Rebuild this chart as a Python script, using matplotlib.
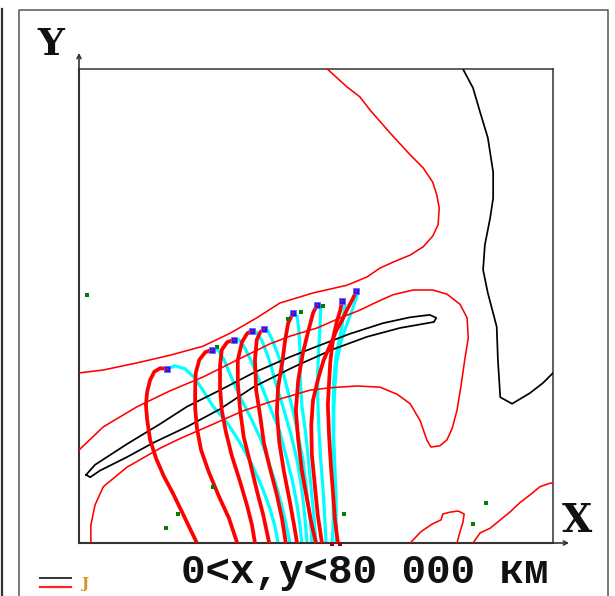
import matplotlib
matplotlib.use("Agg")
import matplotlib.pyplot as plt
from matplotlib.lines import Line2D

# ---------------- data (thousand km, 0..80) ----------------
# thin red contours
contour_r1_x = [41.9, 45.2, 47.4, 49.1, 52.5, 55.9, 58.1, 59.7, 60.4, 60.8, 60.6, 59.7, 58.1, 55.9, 53.0, 50.8, 48.6, 45.2, 39.5, 33.9, 30.0, 25.5, 20.9, 15.4, 9.8, 4.1, 0.0]
contour_r1_y = [80.0, 77.0, 75.3, 73.1, 69.2, 65.5, 63.3, 60.9, 58.7, 56.5, 53.7, 51.8, 50.0, 48.6, 47.4, 46.4, 44.9, 43.5, 42.2, 40.5, 38.0, 35.4, 33.2, 31.7, 30.4, 29.2, 28.7]

contour_r2_x = [0.0, 4.1, 9.8, 15.4, 20.9, 26.7, 32.2, 35.6, 40.2, 44.1, 47.4, 50.3, 53.0, 56.4, 59.7, 62.1, 64.3, 65.5, 65.7, 65.1, 64.5, 63.8, 63.0, 62.1, 60.9, 59.4, 58.7, 57.6, 55.9, 53.7, 50.8, 46.9, 42.4, 39.0, 35.6, 32.2, 27.7, 21.6, 17.0, 13.7, 8.1, 4.1, 2.7, 2.0, 2.0]
contour_r2_y = [15.7, 19.6, 23.0, 25.7, 28.0, 30.9, 33.6, 34.9, 36.3, 38.0, 39.3, 40.7, 41.9, 42.7, 42.7, 42.0, 40.3, 38.0, 34.6, 30.9, 26.7, 22.4, 19.4, 17.4, 16.4, 16.2, 17.4, 20.6, 23.5, 25.1, 26.3, 26.5, 26.2, 25.8, 24.8, 23.8, 22.3, 19.6, 17.6, 16.0, 12.8, 9.5, 6.4, 3.0, 0.0]

contour_r3_x = [55.9, 57.7, 59.6, 61.1, 61.4, 62.6, 64.0, 65.0, 64.8, 64.3, 63.8]
contour_r3_y = [0.0, 1.9, 3.2, 3.9, 4.9, 5.2, 5.4, 4.9, 3.5, 1.9, 0.0]

contour_r4_x = [66.5, 67.7, 69.4, 71.1, 72.7, 74.4, 76.1, 77.8, 79.5, 80.0]
contour_r4_y = [0.0, 1.7, 2.5, 3.9, 5.2, 6.8, 8.1, 9.5, 10.1, 10.1]

# thin black contours
contour_k1_x = [64.8, 66.5, 67.7, 69.0, 69.9, 69.9, 69.4, 68.5, 68.2, 69.0, 70.5, 70.7, 71.1, 73.1, 76.1, 78.3, 80.0]
contour_k1_y = [80.0, 76.8, 72.7, 68.4, 62.6, 58.2, 54.9, 50.3, 46.1, 42.2, 36.5, 30.9, 24.6, 23.5, 25.3, 27.0, 28.7]

contour_k2_x = [1.2, 2.7, 8.1, 13.7, 18.2, 23.8, 29.4, 35.6, 40.2, 45.7, 51.3, 55.9, 59.2, 60.3, 59.9, 54.2, 48.6, 42.9, 37.3, 35.6, 29.4, 23.8, 18.2, 12.5, 8.1, 3.5, 1.9, 1.2]
contour_k2_y = [11.5, 13.2, 16.7, 20.1, 23.0, 25.8, 28.7, 31.4, 33.2, 35.3, 37.1, 38.1, 38.5, 38.0, 37.3, 36.3, 34.8, 32.7, 30.2, 29.4, 26.3, 22.6, 19.6, 16.9, 14.5, 12.2, 11.1, 11.5]

# trajectories (J): red
red_x = [
    [14.9, 13.7, 12.7, 12.0, 11.5, 11.3, 11.5, 12.0, 13.0, 14.3, 15.9, 17.4, 18.7, 19.9],
    [22.4, 21.3, 20.3, 19.7, 19.6, 19.6, 19.9, 20.6, 21.9, 23.6, 25.3, 26.7],
    [26.2, 25.0, 24.1, 23.8, 23.8, 24.1, 24.8, 25.8, 27.2, 28.4, 29.2, 29.7],
    [29.2, 28.4, 27.5, 26.8, 26.8, 27.2, 27.8, 28.9, 30.0, 31.1, 32.1],
    [31.2, 30.6, 30.0, 29.7, 29.9, 30.6, 31.2, 32.2, 33.4, 34.3, 34.9],
    [36.1, 35.3, 34.8, 34.3, 33.6, 33.4, 33.8, 34.6, 35.6, 36.3, 36.8],
    [40.2, 39.5, 38.6, 37.8, 37.0, 36.6, 37.0, 37.6, 38.5, 39.3, 40.0],
    [44.4, 44.1, 43.5, 43.0, 42.7, 42.4, 42.2, 42.0, 42.2, 42.5, 42.9, 43.2, 43.7],
    [46.8, 46.1, 45.2, 44.4, 43.5, 42.4, 41.3, 40.3, 39.5, 39.2, 39.3, 39.8, 40.3, 41.0],
]
red_y = [
    [29.4, 29.5, 28.9, 27.5, 25.5, 23.3, 20.8, 17.4, 14.3, 11.3, 8.3, 5.2, 2.5, 0.0],
    [32.6, 32.2, 30.9, 28.7, 25.8, 22.8, 19.4, 15.7, 12.0, 7.9, 4.2, 0.0],
    [34.3, 33.9, 32.6, 29.9, 26.2, 22.4, 18.7, 14.7, 10.3, 6.2, 3.0, 0.0],
    [35.8, 35.4, 33.9, 30.9, 27.0, 22.4, 17.9, 13.5, 8.9, 4.7, 0.0],
    [36.1, 35.6, 34.3, 30.9, 25.8, 21.3, 16.9, 12.7, 8.1, 3.9, 0.0],
    [38.8, 37.1, 34.3, 30.4, 26.3, 22.1, 17.0, 12.0, 6.9, 3.0, 0.0],
    [40.2, 38.8, 35.4, 32.1, 27.5, 22.4, 17.4, 12.3, 7.3, 3.0, 0.0],
    [40.8, 39.3, 37.3, 35.1, 33.1, 30.4, 27.0, 23.3, 18.2, 13.2, 8.1, 3.9, 0.0],
    [42.5, 41.0, 39.3, 37.6, 36.0, 33.4, 30.9, 27.5, 24.1, 19.9, 14.9, 9.8, 4.7, 0.0],
]
# trajectories: cyan
cyan_x = [
    [14.9, 16.2, 17.9, 19.4, 20.9, 22.6, 25.0, 27.2, 29.2, 30.9, 32.2, 33.1, 33.6],
    [22.4, 23.5, 24.5, 25.7, 27.2, 28.9, 30.6, 31.9, 33.1, 34.1, 34.9, 35.6],
    [26.2, 27.0, 28.0, 29.2, 30.6, 32.2, 33.8, 34.9, 36.0, 36.8, 37.3, 37.6],
    [29.2, 29.9, 30.9, 32.1, 33.2, 34.6, 35.8, 36.8, 37.5, 38.0, 38.3, 38.5],
    [31.2, 31.9, 32.7, 33.9, 34.9, 36.0, 37.0, 37.8, 38.3, 38.8, 39.2, 39.3],
    [36.1, 36.8, 37.1, 37.3, 37.3, 37.6, 38.3, 38.8, 39.3, 39.7, 40.0],
    [40.2, 40.8, 40.7, 40.5, 40.3, 40.3, 40.5, 40.8, 41.2, 41.5, 41.7],
    [44.4, 44.9, 44.6, 44.1, 43.4, 43.0, 42.9, 42.9, 42.9, 42.9, 42.9, 42.7],
    [46.8, 46.9, 46.1, 45.1, 44.2, 43.5, 43.2, 43.0, 43.0, 43.2, 43.4, 43.4, 43.4],
]
cyan_y = [
    [29.4, 29.9, 29.4, 28.0, 25.8, 23.1, 20.3, 16.9, 13.2, 9.4, 5.9, 2.7, 0.0],
    [32.6, 32.6, 30.9, 28.0, 24.6, 21.3, 17.7, 14.0, 10.3, 6.8, 3.4, 0.0],
    [34.3, 34.3, 32.9, 30.4, 27.0, 23.0, 19.1, 14.9, 10.6, 6.4, 3.0, 0.0],
    [35.8, 35.6, 34.1, 30.9, 27.0, 22.4, 18.2, 14.0, 9.8, 5.6, 2.2, 0.0],
    [36.1, 35.8, 34.1, 30.9, 27.0, 22.8, 18.2, 14.0, 9.8, 5.6, 2.2, 0.0],
    [38.8, 38.3, 36.0, 32.6, 28.4, 23.3, 18.2, 13.2, 8.1, 3.9, 0.0],
    [40.2, 39.7, 36.8, 33.4, 29.2, 24.1, 19.1, 14.0, 8.9, 3.9, 0.0],
    [40.8, 40.2, 38.0, 35.1, 31.7, 27.5, 22.4, 17.4, 12.3, 7.3, 3.0, 0.0],
    [42.5, 41.7, 39.3, 36.6, 33.9, 30.6, 26.7, 22.4, 17.4, 12.3, 7.3, 3.0, 0.0],
]

start_x = [14.9, 22.4, 26.2, 29.2, 31.2, 36.1, 40.2, 44.4, 46.8]
start_y = [29.4, 32.6, 34.3, 35.8, 36.1, 38.8, 40.2, 40.8, 42.5]

green_x = [1.4, 23.3, 35.3, 37.5, 41.2, 22.6, 16.7, 14.7, 44.7, 68.7, 66.5]
green_y = [41.9, 33.1, 37.8, 39.0, 40.0, 9.5, 4.9, 2.5, 4.9, 6.8, 3.2]

end_x = [42.7, 44.0]
end_y = [-0.25, -0.25]

caption = "0<x,y<80 000 км"
legend_label = "J"

# ---------------- figure ----------------
W, H = 615, 596
fig = plt.figure(figsize=(W / 100, H / 100), dpi=100)
fig.patch.set_facecolor("white")

def fx(x):
    return x / W

def fy(y):
    return 1 - y / H

ax = fig.add_axes([fx(79), fy(543), 474 / W, 474 / H])
ax.set_xlim(0, 80)
ax.set_ylim(0, 80)
ax.set_xticks([])
ax.set_yticks([])
for side in ["left", "bottom"]:
    ax.spines[side].set_linewidth(1.5)
    ax.spines[side].set_color("#333333")
for side in ["top", "right"]:
    ax.spines[side].set_linewidth(1.1)
    ax.spines[side].set_color("#333333")

# cyan trajectories
for xs, ys in zip(cyan_x, cyan_y):
    ax.plot(xs, ys, color="#00ffff", lw=2.3, solid_capstyle="butt", zorder=2)

# thin contours
for xs, ys in [(contour_r1_x, contour_r1_y), (contour_r2_x, contour_r2_y),
               (contour_r3_x, contour_r3_y), (contour_r4_x, contour_r4_y)]:
    ax.plot(xs, ys, color="#ff0000", lw=1.15, zorder=3)
for xs, ys in [(contour_k1_x, contour_k1_y), (contour_k2_x, contour_k2_y)]:
    ax.plot(xs, ys, color="#000000", lw=1.25, zorder=3)

# red trajectories
for xs, ys in zip(red_x, red_y):
    ax.plot(xs, ys, color="#ff0000", lw=2.7, solid_capstyle="butt", zorder=4)

# markers
ax.plot(green_x, green_y, "s", color="#008000", ms=2.2, mew=0, zorder=5)
ax.plot(start_x, start_y, "s", mfc="#1a1aff", mec="#6666ff", mew=0.6, ms=4.8, zorder=6)
ax.plot(start_x, start_y, "s", color="#ff0000", ms=1.5, mew=0, zorder=7)
ax.plot(end_x, end_y, "s", color="#a00000", ms=2.4, mew=0, zorder=7, clip_on=False)

# axis arrows
arr = dict(arrowstyle="->", lw=1.2, color="#333333", shrinkA=0, shrinkB=0, mutation_scale=7)
ax.annotate("", xy=(0, 1.034), xytext=(0, 0.99), xycoords="axes fraction",
            arrowprops=arr, annotation_clip=False)
ax.annotate("", xy=(1.034, 0), xytext=(0.99, 0), xycoords="axes fraction",
            arrowprops=arr, annotation_clip=False)

# frame decorations
fig.add_artist(Line2D([fx(1.5), fx(1.5)], [fy(9), fy(600)], transform=fig.transFigure,
                      color="#333333", lw=1.6))
fig.add_artist(Line2D([fx(19), fx(19), fx(608), fx(608)], [fy(600), fy(9.5), fy(9.5), fy(600)],
                      transform=fig.transFigure, color="#555555", lw=1.1))

# texts
serif = "DejaVu Serif"
mono = "Liberation Mono"
fig.text(fx(37), fy(55), "Y", fontsize=27, fontweight="bold", family=serif,
         ha="left", va="baseline", color="#111111")
fig.text(fx(562), fy(532), "X", fontsize=28, fontweight="bold", family=serif,
         ha="left", va="baseline", color="#111111")
fig.text(fx(181), fy(583), caption, fontsize=29.4, fontweight="bold", family=mono,
         ha="left", va="baseline", color="#111111")

# legend
fig.add_artist(Line2D([fx(40), fx(71)], [fy(578), fy(578)], transform=fig.transFigure,
                      color="#333333", lw=1.4))
fig.add_artist(Line2D([fx(40), fx(71)], [fy(587), fy(587)], transform=fig.transFigure,
                      color="#ff2020", lw=1.6))
fig.text(fx(81), fy(588), legend_label, fontsize=11, fontweight="bold", family=serif,
         ha="left", va="baseline", color="#d4952a")

fig.savefig("out.png", dpi=100)
